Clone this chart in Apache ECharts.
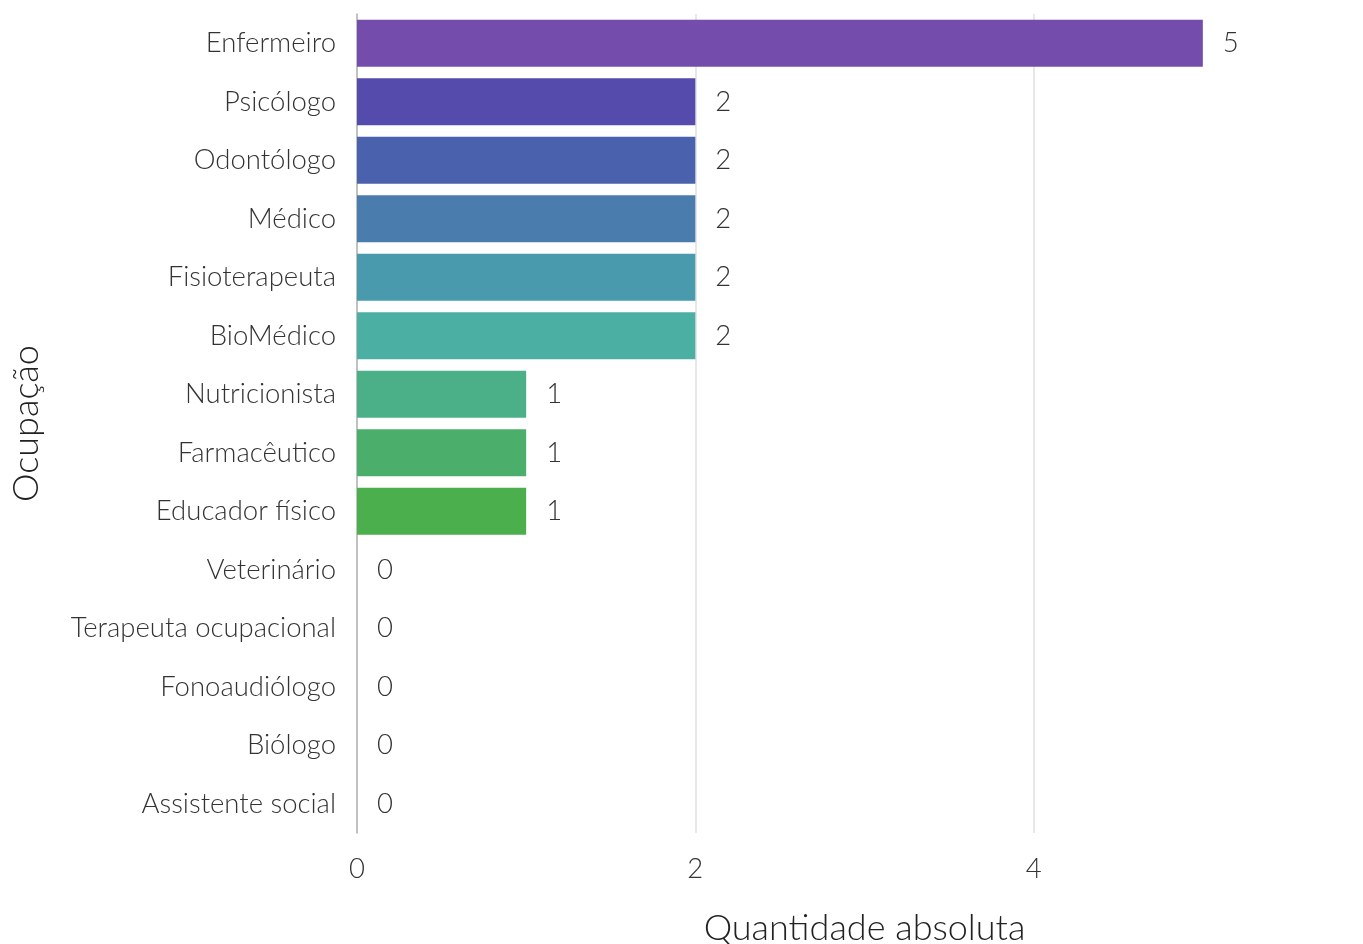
<!DOCTYPE html>
<html>
<head>
<meta charset="utf-8">
<style>
html,body{margin:0;padding:0;background:#fff;}
#chart{width:1363px;height:944px;}
</style>
<script src="https://cdn.jsdelivr.net/npm/echarts@6/dist/echarts.min.js"></script>
</head>
<body>
<div id="chart"></div>
<script>
const categories = ["Enfermeiro","Psicólogo","Odontólogo","Médico","Fisioterapeuta","BioMédico","Nutricionista","Farmacêutico","Educador físico","Veterinário","Terapeuta ocupacional","Fonoaudiólogo","Biólogo","Assistente social"];
const values = [5,2,2,2,2,2,1,1,1,0,0,0,0,0];
const barColors = ["#744DAC","#544BAD","#4A61AD","#4A7DAD","#4A9AAD","#4BAFA3","#4BB088","#4BAF6B","#4BAF4E","#4BAF4E","#4BAF4E","#4BAF4E","#4BAF4E","#4BAF4E"];
const xTicks = [0,2,4,6];
const xTitle = "Quantidade absoluta";
const yTitle = "Ocupação";

const FONT = "Lato";
const chart = echarts.init(document.getElementById('chart'), null, {renderer:'canvas'});
chart.setOption({
  animation:false,
  backgroundColor:'#ffffff',
  grid:{left:357, right:-9, top:14, bottom:111, containLabel:false, outerBoundsMode:'none'},
  xAxis:{
    type:'value', min:xTicks[0], max:xTicks[xTicks.length-1], interval:xTicks[1]-xTicks[0],
    name:xTitle, nameLocation:'middle', nameGap:77,
    nameTextStyle:{fontFamily:FONT, fontWeight:300, fontSize:36, color:'#222'},
    axisLine:{show:false}, axisTick:{show:false},
    axisLabel:{fontFamily:FONT, fontWeight:300, fontSize:27.5, color:'#333', margin:22},
    splitLine:{show:true, lineStyle:{color:'#e0e0e0', width:1.5}}
  },
  yAxis:{
    type:'category', data:categories, inverse:true,
    name:yTitle, nameLocation:'middle', nameGap:313,
    nameTextStyle:{fontFamily:FONT, fontWeight:300, fontSize:36, color:'#222'},
    axisLine:{show:true, lineStyle:{color:'#b5b5b5', width:1.5}},
    axisTick:{show:false},
    axisLabel:{fontFamily:FONT, fontWeight:300, fontSize:27.5, color:'#333', margin:21},
    splitLine:{show:false}
  },
  series:[{
    type:'bar',
    data:values.map((v,i)=>({value:v, itemStyle:{color:barColors[i]}})),
    barCategoryGap:'20%',
    label:{show:true, position:'right', distance:20, fontFamily:FONT, fontWeight:300, fontSize:27.5, color:'#333'}
  }]
});
</script>
</body>
</html>
